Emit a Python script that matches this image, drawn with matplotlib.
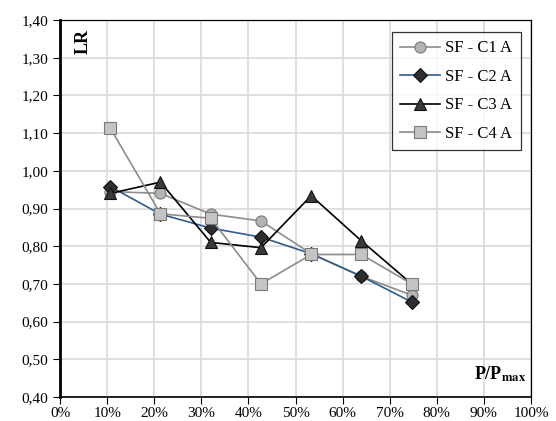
import matplotlib.pyplot as plt
from matplotlib.ticker import FixedLocator

plt.rcParams['font.family'] = ['Liberation Serif', 'DejaVu Serif']
plt.rcParams['mathtext.fontset'] = 'stix'

load = [10.67, 21.33, 32.0, 42.67, 53.33, 64.0, 74.67]
c1 = [0.945, 0.94, 0.885, 0.867, 0.78, 0.72, 0.67]
c2 = [0.958, 0.885, 0.848, 0.824, 0.78, 0.72, 0.652]
c3 = [0.94, 0.97, 0.81, 0.796, 0.934, 0.814, 0.70]
c4 = [1.113, 0.886, 0.874, 0.70, 0.778, 0.778, 0.70]
labels = ['SF - C1 A', 'SF - C2 A', 'SF - C3 A', 'SF - C4 A']

yticks = [0.4 + 0.1 * i for i in range(11)]
xticks = list(range(0, 101, 10))

fig = plt.figure(figsize=(5.56, 4.21), dpi=100)
ax = fig.add_axes([0.108, 0.057, 0.847, 0.8955])

ax.plot(load, c1, color='#8c8c8c', lw=1.2, marker='o', ms=8,
        mfc='#b4b4b4', mec='#7a7a7a', mew=0.8, label=labels[0], zorder=3)
ax.plot(load, c2, color='#2f5b8c', lw=1.2, marker='D', ms=7,
        mfc='#2e2e2e', mec='#111111', mew=0.8, label=labels[1], zorder=4)
ax.plot(load, c3, color='black', lw=1.2, marker='^', ms=9,
        mfc='#3a3a3a', mec='#111111', mew=0.8, label=labels[2], zorder=5)
ax.plot(load, c4, color='#8c8c8c', lw=1.2, marker='s', ms=8,
        mfc='#c4c4c4', mec='#7a7a7a', mew=0.8, label=labels[3], zorder=6)

ax.set_xlim(0, 100)
ax.set_ylim(0.4, 1.4)
ax.xaxis.set_major_locator(FixedLocator(xticks))
ax.yaxis.set_major_locator(FixedLocator(yticks))
ax.set_xticklabels([f'{t}%' for t in xticks])
ax.set_yticklabels([f'{t:.2f}'.replace('.', ',') for t in yticks])
ax.tick_params(labelsize=11, length=5, direction='out', color='black')
ax.tick_params(axis='x', pad=2)
ax.grid(True, color='#d9d9d9', lw=1.2)
ax.set_axisbelow(True)
for s in ax.spines.values():
    s.set_color('black')
    s.set_linewidth(0.9)
ax.spines['left'].set_linewidth(2)
ax.spines['bottom'].set_linewidth(1.2)

ax.text(0.05, 0.975, 'LR', transform=ax.transAxes, rotation=90,
        fontsize=13, fontweight='bold', ha='center', va='top')
ax.text(0.99, 0.06, r'P/P$_{\mathbf{max}}$', transform=ax.transAxes,
        fontsize=13, fontweight='bold', ha='right', va='center')

leg = ax.legend(loc='upper right', bbox_to_anchor=(0.978, 0.968), fontsize=12,
                frameon=True, fancybox=False, edgecolor='black',
                borderpad=0.5, labelspacing=0.75, handlelength=2.4,
                handletextpad=0.3, borderaxespad=0)
leg.get_frame().set_linewidth(0.9)

fig.savefig('out.png', dpi=100)
